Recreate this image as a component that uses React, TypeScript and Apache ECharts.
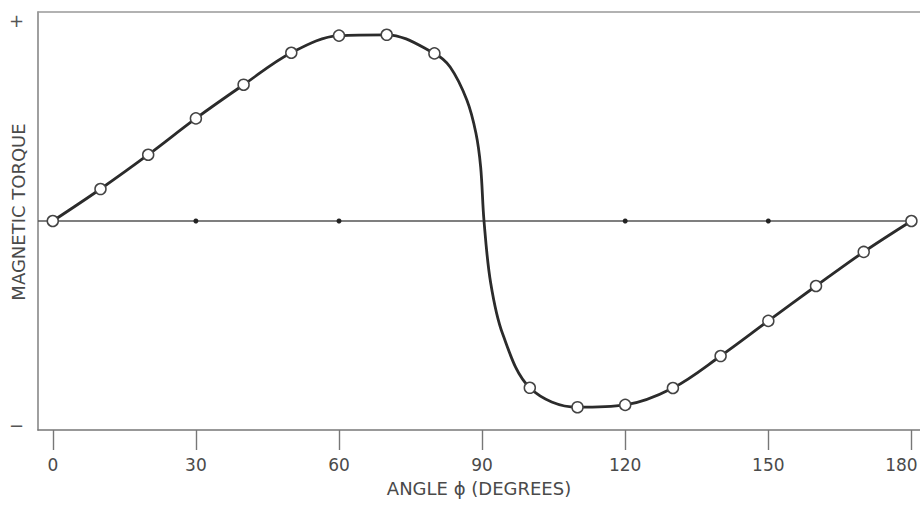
import React, { useEffect, useRef } from "react";
import * as echarts from "echarts";

// Measured points (open circles), angle in degrees vs relative torque (-100..100)
const markerAngles = [0, 10, 20, 30, 40, 50, 60, 70, 80, 100, 110, 120, 130, 140, 150, 160, 170, 180];
const markerTorque = [0, 15.3, 31.7, 49.1, 65.2, 80.5, 88.7, 89.1, 80.2, -79.8, -89.1, -88.0, -79.9, -64.6, -47.8, -31.1, -14.8, 0];

// Extra points along the steep transition around 90 degrees
const transitionAngles = [83.3, 86.8, 88.7, 89.7, 90.4, 91.8, 94.3];
const transitionTorque = [73.7, 57.9, 42.1, 25.8, 0, -29.7, -54.0];

// Small dots on the zero line
const zeroDotAngles = [30, 60, 120, 150];

const xTicks = [0, 30, 60, 90, 120, 150, 180];
const xMin = -3.1;
const xMax = 181.8;

const FONT = "'DejaVu Sans', 'Liberation Sans', sans-serif";
const TEXT = "#4a4a4a";

export default function App() {
  const ref = useRef<HTMLDivElement>(null);

  useEffect(() => {
    if (!ref.current) return;
    const chart = echarts.init(ref.current, null, { renderer: "svg" });

    const curve = [
      ...markerAngles.map((a, i) => [a, markerTorque[i]]),
      ...transitionAngles.map((a, i) => [a, transitionTorque[i]]),
    ].sort((p, q) => p[0] - q[0]);

    chart.setOption({
      animation: false,
      backgroundColor: "#ffffff",
      grid: { left: 38, right: 0, top: 12, bottom: 75, outerBoundsMode: "none", containLabel: false },
      xAxis: [
        {
          type: "value",
          min: xMin,
          max: xMax,
          position: "bottom",
          axisLine: { show: true, onZero: false, lineStyle: { color: "#777", width: 1.6 } },
          axisTick: {
            show: true,
            inside: false,
            length: 20,
            customValues: xTicks,
            lineStyle: { color: "#777", width: 1.4 },
          },
          axisLabel: {
            show: true,
            customValues: xTicks,
            margin: 26,
            fontSize: 17,
            fontFamily: FONT,
            color: TEXT,
            // the last label is nudged left so it stays inside the page
            formatter: (v: number) => (v === 180 ? "{r|" + v + "}" : String(v)),
            rich: { r: { fontSize: 17, fontFamily: FONT, color: TEXT, padding: [0, 20, 0, 0] } },
          },
          splitLine: { show: false },
          name: "ANGLE \u03d5 (DEGREES)",
          nameLocation: "middle",
          nameGap: 49,
          nameTextStyle: { fontSize: 18, fontFamily: FONT, color: TEXT },
        },
        {
          type: "value",
          min: xMin,
          max: xMax,
          position: "top",
          axisLine: { show: true, onZero: false, lineStyle: { color: "#999", width: 1.6 } },
          axisTick: { show: false },
          axisLabel: { show: false },
          splitLine: { show: false },
        },
      ],
      yAxis: {
        type: "value",
        min: -100,
        max: 100,
        interval: 100,
        axisLine: { show: true, onZero: false, lineStyle: { color: "#888", width: 1.6 } },
        axisTick: { show: false },
        splitLine: { show: false },
        axisLabel: {
          margin: 14,
          fontSize: 18,
          fontFamily: FONT,
          color: "#555",
          formatter: (v: number) => (v > 0 ? "{p|+}" : v < 0 ? "{m|\u2212}" : ""),
          rich: {
            p: { fontSize: 18, fontFamily: FONT, color: "#555", padding: [16, 0, 0, 0] },
            m: { fontSize: 18, fontFamily: FONT, color: "#555", padding: [0, 0, 10, 0] },
          },
        },
      },
      graphic: [
        {
          type: "text",
          x: 18,
          y: 212,
          rotation: Math.PI / 2,
          style: {
            text: "MAGNETIC TORQUE",
            fontSize: 18,
            fontFamily: FONT,
            fill: TEXT,
            align: "center",
            verticalAlign: "middle",
          },
        },
      ],
      series: [
        {
          type: "line",
          data: [
            [xMin, 0],
            [180, 0],
          ],
          symbol: "none",
          lineStyle: { color: "#555", width: 1.5 },
          silent: true,
          z: 1,
        },
        {
          type: "scatter",
          data: zeroDotAngles.map((a) => [a, 0]),
          symbol: "circle",
          symbolSize: 5,
          itemStyle: { color: "#222", opacity: 1 },
          silent: true,
          z: 2,
        },
        {
          type: "line",
          data: curve,
          smooth: 0.35,
          symbol: "none",
          lineStyle: { color: "#2b2b2b", width: 2.8 },
          silent: true,
          z: 3,
        },
        {
          type: "scatter",
          data: markerAngles.map((a, i) => [a, markerTorque[i]]),
          symbol: "circle",
          symbolSize: 11,
          itemStyle: { color: "#ffffff", borderColor: "#444", borderWidth: 1.5, opacity: 1 },
          silent: true,
          z: 4,
        },
      ],
    });

    return () => chart.dispose();
  }, []);

  return (
    <div
      ref={ref}
      style={{ position: "fixed", left: 0, top: 0, width: 920, height: 505, background: "#fff" }}
    />
  );
}
